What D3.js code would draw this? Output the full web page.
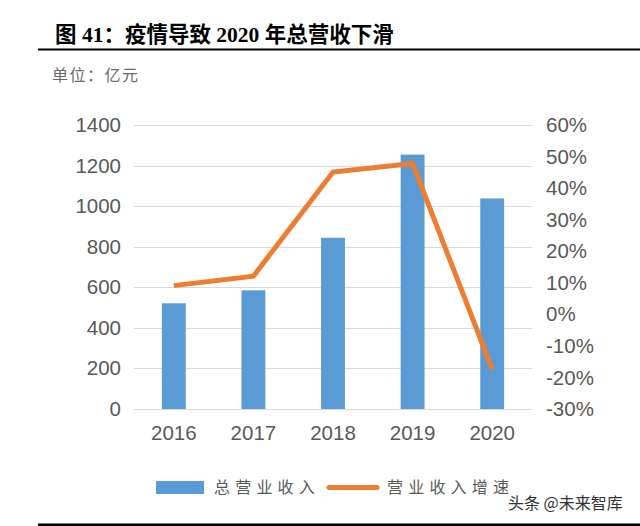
<!DOCTYPE html>
<html><head><meta charset="utf-8">
<script src="https://cdn.jsdelivr.net/npm/d3@7"></script>
<style>body{margin:0;background:#fff;}svg{display:block;}</style>
</head><body>
<svg id="c" width="640" height="526"></svg>
<script>
const years = ["2016","2017","2018","2019","2020"];
const revenue = [521, 585, 844, 1254, 1038];
const growth = [9.1, 12.1, 45.1, 47.8, -17.4];
const leftTicks = [0,200,400,600,800,1000,1200,1400];
const rightTicks = [-30,-20,-10,0,10,20,30,40,50,60];
const seriesNames = ["总营业收入","营业收入增速"];
const titleText = "图 41：疫情导致 2020 年总营收下滑";
const unitText = "单位：亿元";
const watermark = "头条 @未来智库";

const svg = d3.select("#c");
const L = 134, R = 532, T = 125, B = 409;
const x = d3.scaleBand().domain(years).range([L, R]).paddingInner(0.7).paddingOuter(0.35);
const y = d3.scaleLinear().domain([0,1400]).range([B, T]);
const y2 = d3.scaleLinear().domain([-30,60]).range([B, T]);
const gray = "#595959";
const sans = "'Liberation Sans', Arial, sans-serif";
const fs = 20.5;

// title
svg.append("text").attr("x",55).attr("y",42).attr("font-size",21.5).attr("font-weight","bold")
  .attr("font-family","'Liberation Serif','Noto Sans CJK SC',serif").attr("fill","#000").text(titleText);
svg.append("line").attr("x1",38).attr("x2",640).attr("y1",49.5).attr("y2",49.5).attr("stroke","#000").attr("stroke-width",2);
svg.append("text").attr("x",52).attr("y",81).attr("font-size",16).attr("fill","#6a6a6a").attr("letter-spacing",1.5)
  .attr("font-family","'Noto Sans CJK SC',sans-serif").text(unitText);

// grid
svg.append("g").selectAll("line").data(leftTicks).join("line")
  .attr("x1",L).attr("x2",R).attr("y1",d=>Math.round(y(d))+0.5).attr("y2",d=>Math.round(y(d))+0.5)
  .attr("stroke","#d9d9d9").attr("stroke-width",1);

// left axis
const ga = svg.append("g").attr("transform",`translate(${L-13},0)`)
  .call(d3.axisLeft(y).tickValues(leftTicks).tickFormat(d3.format("d")).tickSize(0).tickPadding(0));
ga.select(".domain").remove();
ga.selectAll("text").attr("font-size",fs).attr("font-family",sans).attr("fill",gray);

// right axis
const gr = svg.append("g").attr("transform",`translate(${R+14},0)`)
  .call(d3.axisRight(y2).tickValues(rightTicks).tickFormat(d=>d+"%").tickSize(0).tickPadding(0));
gr.select(".domain").remove();
gr.selectAll("text").attr("font-size",fs).attr("font-family",sans).attr("fill",gray);

// x axis
const gx = svg.append("g").attr("transform",`translate(0,${B+16})`)
  .call(d3.axisBottom(x).tickSize(0).tickPadding(0));
gx.select(".domain").remove();
gx.selectAll("text").attr("font-size",fs).attr("font-family",sans).attr("fill",gray).attr("dy","0.71em");

// bars
svg.append("g").selectAll("rect").data(years).join("rect")
  .attr("x",d=>x(d)).attr("width",x.bandwidth())
  .attr("y",(d,i)=>y(revenue[i])).attr("height",(d,i)=>B-y(revenue[i]))
  .attr("fill","#5B9BD5");

// line
const line = d3.line().x((d,i)=>x(years[i])+x.bandwidth()/2).y(d=>y2(d));
svg.append("path").datum(growth).attr("d",line).attr("fill","none")
  .attr("stroke","#ED7D31").attr("stroke-width",5).attr("stroke-linejoin","miter");

// legend
const lf = "'Noto Sans CJK SC',sans-serif";
svg.append("rect").attr("x",156).attr("y",481).attr("width",48).attr("height",13).attr("fill","#5B9BD5");
svg.append("text").attr("x",214).attr("y",493).attr("font-size",16).attr("font-family",lf).attr("fill",gray).attr("letter-spacing",5.2).text(seriesNames[0]);
svg.append("line").attr("x1",329).attr("x2",377).attr("y1",487.5).attr("y2",487.5).attr("stroke","#ED7D31").attr("stroke-width",5).attr("stroke-linecap","round");
svg.append("text").attr("x",387).attr("y",493).attr("font-size",16).attr("font-family",lf).attr("fill",gray).attr("letter-spacing",5.2).text(seriesNames[1]);

// watermark
svg.append("text").attr("x",508).attr("y",509).attr("font-size",16).attr("font-family",lf).attr("fill","#333").text(watermark);

// bottom line
svg.append("line").attr("x1",38).attr("x2",640).attr("y1",525).attr("y2",525).attr("stroke","#000").attr("stroke-width",3);
</script>
</body></html>
